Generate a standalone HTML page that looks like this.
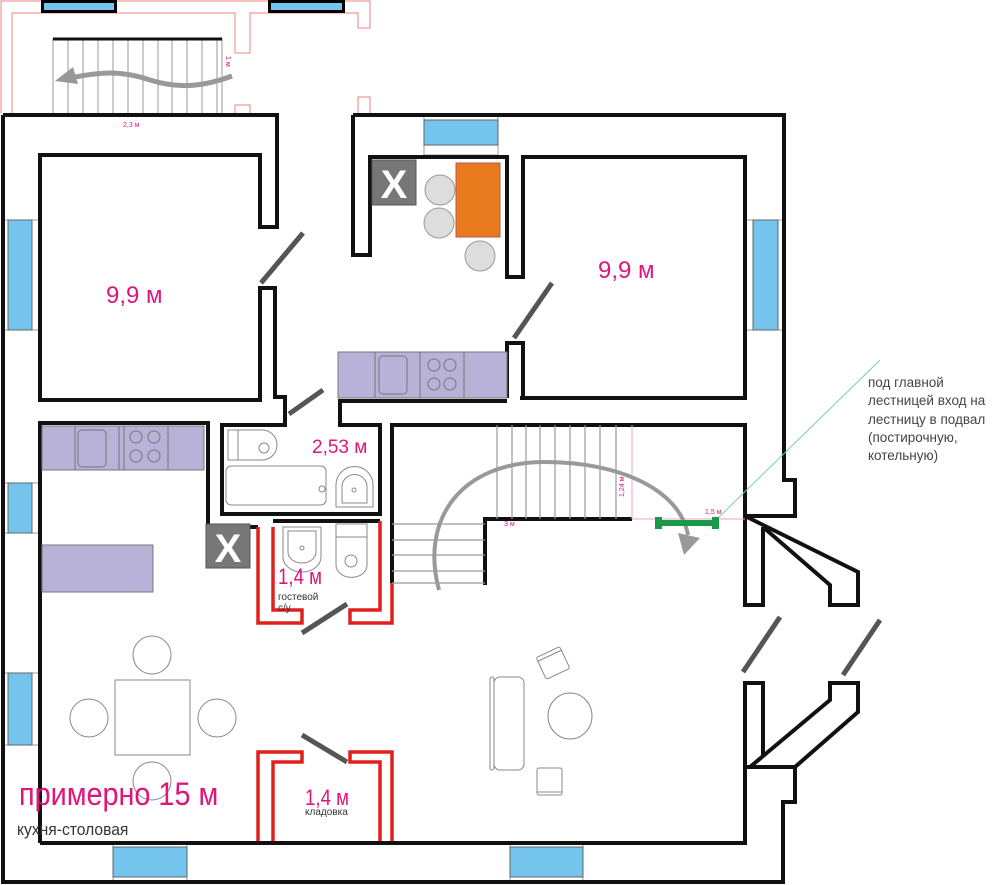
<!DOCTYPE html>
<html><head><meta charset="utf-8"><style>
html,body{margin:0;padding:0;background:#fff;width:1000px;height:885px;overflow:hidden}
svg{display:block}
text{font-family:"Liberation Sans",sans-serif}
</style></head><body>
<svg width="1000" height="885" viewBox="0 0 1000 885" xmlns="http://www.w3.org/2000/svg">
<g fill="none" stroke="#f08080" stroke-width="1">
<polyline points="1,113 1,1 370,1 370,28 358,28 358,13 250,13 250,53 235,53 235,13 12,13 12,113"/>
<polyline points="235,113 235,105 250,105 250,113"/>
<polyline points="358,113 358,97 370,97 370,113"/>
</g>
<rect x="41" y="0" width="76" height="13" fill="#000"/><rect x="44" y="3" width="70" height="7" fill="#74c4ee"/>
<rect x="268" y="0" width="77" height="13" fill="#000"/><rect x="271" y="3" width="71" height="7" fill="#74c4ee"/>
<g stroke="#999" stroke-width="1">
<line x1="53" y1="38" x2="53" y2="113"/><line x1="68" y1="38" x2="68" y2="113"/><line x1="83" y1="38" x2="83" y2="113"/><line x1="98" y1="38" x2="98" y2="113"/><line x1="113" y1="38" x2="113" y2="113"/><line x1="128" y1="38" x2="128" y2="113"/><line x1="143" y1="38" x2="143" y2="113"/><line x1="158" y1="38" x2="158" y2="113"/><line x1="172" y1="38" x2="172" y2="113"/><line x1="187" y1="38" x2="187" y2="113"/><line x1="202" y1="38" x2="202" y2="113"/><line x1="217" y1="38" x2="217" y2="113"/><line x1="222" y1="38" x2="222" y2="113"/>
</g>
<line x1="53" y1="39" x2="222" y2="39" stroke="#111" stroke-width="3"/>
<path d="M232,76 C200,88 175,88 150,80 C120,70 100,72 70,78" fill="none" stroke="#999" stroke-width="5"/>
<polygon points="55,81 73,67 78,84" fill="#999"/>
<text x="0" y="0" font-size="7" fill="#e0157a" transform="translate(226,56) rotate(90)">1 м</text>
<text x="123" y="127" font-size="7" fill="#e0157a">2,3 м</text>

<g fill="#fff" stroke="#999" stroke-width="1">
<rect x="3" y="220" width="37" height="110"/>
<rect x="3" y="483" width="37" height="50"/>
<rect x="3" y="673" width="37" height="72"/>
<rect x="745" y="220" width="39" height="110"/>
<rect x="424" y="115" width="74" height="40"/>
<rect x="113" y="843" width="74" height="39"/>
<rect x="510" y="843" width="73" height="39"/>
</g>
<g fill="#74c4ee" stroke="#666" stroke-width="1">
<rect x="8" y="220" width="24" height="110"/>
<rect x="8" y="483" width="24" height="50"/>
<rect x="8" y="673" width="24" height="72"/>
<rect x="753" y="220" width="25" height="110"/>
<rect x="424" y="120" width="74" height="25"/>
<rect x="113" y="847" width="74" height="30"/>
<rect x="510" y="847" width="73" height="30"/>
</g>

<g fill="none" stroke="#111" stroke-width="4" stroke-linejoin="miter">
<polyline points="3,115 3,882 783,882 783,802 795,802 795,767"/>
<polyline points="3,115 277,115 277,227 260,227 260,155 40,155 40,400 260,400 260,288 275,288 275,397 285,397 285,425 222,425 222,514 380,514 380,425 340,425 340,401 507,401"/>
<polyline points="40,843 40,423 208,423 208,527 258,527"/>
<polyline points="273,521 380,521"/>
<polyline points="353,115 784,115 784,480 795,480 795,516 745,516"/>
<polyline points="353,115 353,255 370,255 370,157 507,157 507,277 523,277 523,157 745,157 745,398 520,398"/>
<polyline points="507,398 507,343 523,343 523,398"/>
<polyline points="392,583 392,425 745,425 745,605 763,605 763,527"/>
<polyline points="745,516 858,572 858,605 830,605 830,585 763,527"/>
<polyline points="795,767 745,767 745,683 763,683 763,755"/>
<polyline points="750,767 830,700 830,683 858,683 858,712 795,767"/>
<polyline points="40,843 745,843 745,767"/>
<polyline points="485,585 485,519 632,519"/>
</g>
<g fill="none" stroke="#e0201c" stroke-width="3.5">
<polyline points="258,527 258,623 302,623 302,610 273,610 273,527"/>
<polyline points="392,583 392,623 350,623 350,610 380,610 380,521"/>
<polyline points="258,841 258,752 302,752 302,762 273,762 273,841"/>
<polyline points="392,841 392,752 350,752 350,762 380,762 380,841"/>
</g>
<g stroke="#555" stroke-width="5">
<line x1="261" y1="283" x2="303" y2="233"/>
<line x1="289" y1="414" x2="323" y2="390"/>
<line x1="514" y1="338" x2="552" y2="283"/>
<line x1="302" y1="633" x2="347" y2="604"/>
<line x1="302" y1="735" x2="347" y2="762"/>
<line x1="743" y1="672" x2="780" y2="617"/>
<line x1="843" y1="675" x2="880" y2="620"/>
</g>

<rect x="372" y="160" width="44" height="45" fill="#777" stroke="#555"/>
<text x="394" y="198" font-size="40" font-weight="bold" fill="#fff" text-anchor="middle">X</text>
<g fill="#ddd" stroke="#999" stroke-width="1"><circle cx="440" cy="190" r="15"/><circle cx="439" cy="223" r="15"/><circle cx="480" cy="256" r="15"/></g>
<rect x="456" y="163" width="44" height="74" fill="#e67a1c" stroke="#b55"/>
<g fill="#b8b2d8" stroke="#777" stroke-width="1">
<rect x="338" y="352" width="169" height="46"/>
<line x1="375" y1="352" x2="375" y2="398"/><line x1="420" y1="352" x2="420" y2="398"/><line x1="464" y1="352" x2="464" y2="398"/>
<rect x="379" y="356" width="28" height="38" rx="4"/>
<circle cx="434" cy="365" r="6"/><circle cx="450" cy="365" r="6"/><circle cx="434" cy="384" r="6"/><circle cx="450" cy="384" r="6"/>
<rect x="42" y="426" width="162" height="44"/>
<line x1="75" y1="426" x2="75" y2="470"/><line x1="119" y1="426" x2="119" y2="470"/><line x1="124" y1="426" x2="124" y2="470"/><line x1="168" y1="426" x2="168" y2="470"/>
<rect x="78" y="430" width="28" height="37" rx="4"/>
<circle cx="136" cy="437" r="6"/><circle cx="154" cy="437" r="6"/><circle cx="136" cy="456" r="6"/><circle cx="154" cy="456" r="6"/>
<rect x="42" y="545" width="111" height="47"/>
</g>
<rect x="206" y="524" width="44" height="44" fill="#777" stroke="#555"/>
<text x="228" y="562" font-size="40" font-weight="bold" fill="#fff" text-anchor="middle">X</text>

<g fill="#fff" stroke="#888" stroke-width="1">
<path d="M228,430 H262 A15,15 0 0 1 262,460 H228 Z"/><line x1="238" y1="430" x2="238" y2="460"/><circle cx="264" cy="448" r="5"/>
<rect x="226" y="466" width="100" height="39" rx="5"/><circle cx="322" cy="489" r="3"/>
<path d="M336,507 V485 A18,18 0 0 1 373,485 V507 Z"/><path d="M342,503 V487 A12,12 0 0 1 367,487 V503 Z"/><circle cx="354" cy="490" r="2"/>
<path d="M283,527 H321 V557 A19,15 0 0 1 283,557 Z"/><path d="M288,531 H316 V552 A14,11 0 0 1 288,552 Z"/><circle cx="302" cy="548" r="2"/>
<rect x="336" y="524" width="31" height="13"/><path d="M336,537 H367 V565 A15,12 0 0 1 336,565 Z"/><circle cx="351" cy="561" r="6"/>
</g>

<g fill="#fff" stroke="#888" stroke-width="1">
<rect x="115" y="680" width="75" height="75"/>
<circle cx="152" cy="655" r="19"/><circle cx="89" cy="718" r="19"/><circle cx="217" cy="718" r="19"/><circle cx="152" cy="781" r="19"/>
<rect x="490" y="677" width="4" height="93" rx="2"/><rect x="494" y="677" width="30" height="93" rx="6"/>
<ellipse cx="570" cy="716" rx="22" ry="23"/>
<g transform="translate(553,663) rotate(-25)"><rect x="-13" y="-12" width="26" height="24" rx="2"/><line x1="-13" y1="-8" x2="13" y2="-8"/></g>
<rect x="537" y="768" width="25" height="27" rx="2"/><line x1="537" y1="792" x2="562" y2="792"/>
</g>

<g stroke="#999" stroke-width="1.2">
<line x1="392" y1="524" x2="485" y2="524"/><line x1="392" y1="540" x2="485" y2="540"/><line x1="392" y1="555" x2="485" y2="555"/><line x1="392" y1="571" x2="485" y2="571"/><line x1="392" y1="583" x2="485" y2="583"/>
<line x1="497" y1="425" x2="497" y2="519"/><line x1="512" y1="425" x2="512" y2="519"/><line x1="526" y1="425" x2="526" y2="519"/><line x1="540" y1="425" x2="540" y2="519"/><line x1="555" y1="425" x2="555" y2="519"/><line x1="570" y1="425" x2="570" y2="519"/><line x1="585" y1="425" x2="585" y2="519"/><line x1="600" y1="425" x2="600" y2="519"/><line x1="616" y1="425" x2="616" y2="519"/>
</g>
<g stroke="#f0a0c8" stroke-width="1"><line x1="632" y1="425" x2="632" y2="519"/><line x1="632" y1="519" x2="745" y2="519"/></g>
<line x1="718" y1="518" x2="880" y2="360" stroke="#7ccf9c" stroke-width="1"/>
<path d="M439,590 C420,520 460,462 545,462 C620,462 680,490 688,535" fill="none" stroke="#999" stroke-width="4"/>
<polygon points="678,533 700,538 684,555" fill="#999"/>
<g fill="#1a9a48"><rect x="655" y="520" width="64" height="6"/><rect x="655" y="517" width="7" height="12"/><rect x="712" y="517" width="7" height="12"/></g>
<text x="0" y="0" font-size="7" fill="#e0157a" transform="translate(624,497) rotate(-90)">1,24 м</text>
<text x="504" y="526" font-size="7" fill="#e0157a">3 м</text>
<text x="705" y="514" font-size="7" fill="#e0157a">1,5 м</text>

<g fill="#e0157a">
<text x="106" y="303" font-size="24">9,9 м</text>
<text x="598" y="278" font-size="24">9,9 м</text>
<text x="312" y="453" font-size="19">2,53 м</text>
<text font-size="22" transform="translate(278,584) scale(0.85,1)">1,4 м</text>
<text font-size="22" transform="translate(305,805) scale(0.85,1)">1,4 м</text>
<text font-size="32" transform="translate(19,805) scale(0.9,1)">примерно 15 м</text>
</g>
<g fill="#333">
<text x="278" y="600" font-size="10">гостевой</text>
<text x="278" y="611" font-size="10">с/у</text>
<text x="305" y="815" font-size="10">кладовка</text>
<text font-size="17" transform="translate(17,835) scale(0.92,1)">кухня-столовая</text>
</g>
<g fill="#444" font-size="13.5">
<text x="868" y="387">под главной</text>
<text x="868" y="405">лестницей вход на</text>
<text x="868" y="424">лестницу в подвал</text>
<text x="868" y="442">(постирочную,</text>
<text x="868" y="460">котельную)</text>
</g>
</svg>
</body></html>
